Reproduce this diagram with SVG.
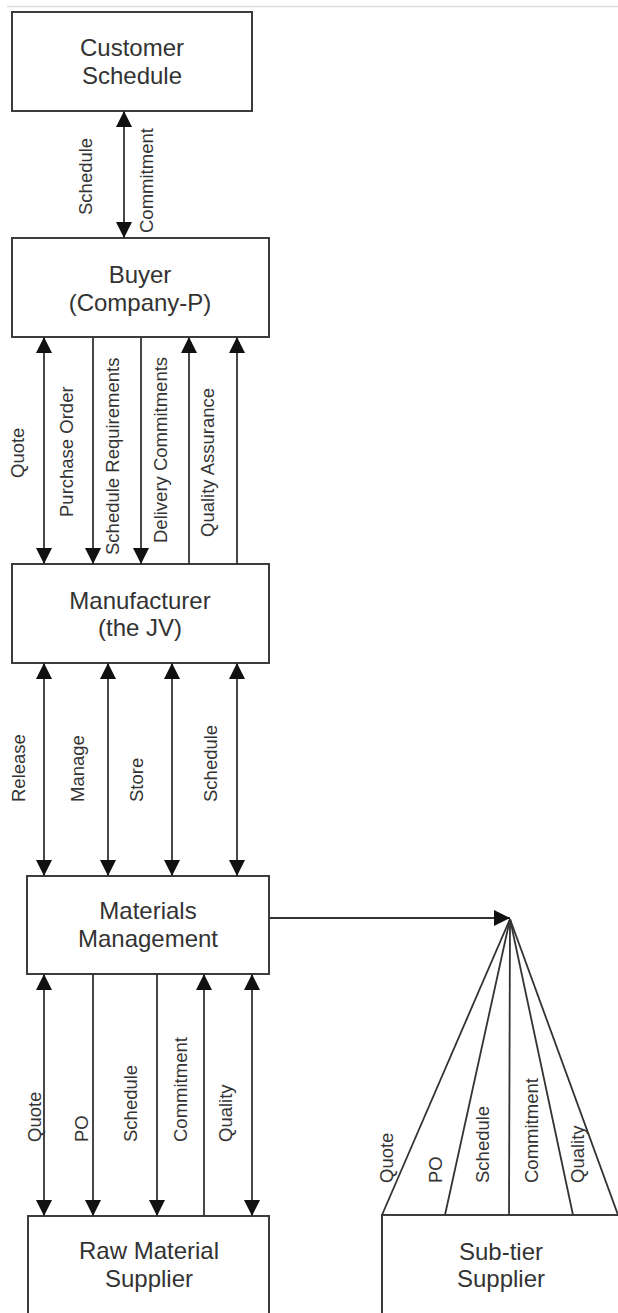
<svg xmlns="http://www.w3.org/2000/svg" width="618" height="1313" viewBox="0 0 618 1313">
<style>
.box{fill:#fff;stroke:#3c3c3c;stroke-width:2}
.bt{font-family:"Liberation Sans",Arial,sans-serif;font-size:24px;fill:#333;text-anchor:middle}
.lb{font-family:"Liberation Sans",Arial,sans-serif;font-size:18.5px;fill:#333}
.ln{stroke:#333;stroke-width:1.8;fill:none}
</style>
<defs>
<marker id="ah" viewBox="0 0 16 16" refX="16" refY="8" markerWidth="16" markerHeight="16" markerUnits="userSpaceOnUse" orient="auto-start-reverse">
<path d="M0,0 L16,8 L0,16 Z" fill="#111"/>
</marker>
</defs>
<rect width="618" height="1313" fill="#fff"/>
<line x1="7" y1="6.5" x2="618" y2="6.5" stroke="#ddd" stroke-width="1.5"/>
<g id="customer"><rect class="box" x="12" y="12" width="240" height="99"/><text class="bt" x="132" y="56">Customer</text><text class="bt" x="132" y="84">Schedule</text></g>
<g id="buyer"><rect class="box" x="12" y="238" width="257" height="99"/><text class="bt" x="140" y="283">Buyer</text><text class="bt" x="140" y="311">(Company-P)</text></g>
<g id="manufacturer"><rect class="box" x="12" y="564" width="257" height="99"/><text class="bt" x="140" y="609">Manufacturer</text><text class="bt" x="140" y="636">(the JV)</text></g>
<g id="materials"><rect class="box" x="27" y="876" width="242" height="98"/><text class="bt" x="148" y="919">Materials</text><text class="bt" x="148" y="947">Management</text></g>
<g id="raw"><rect class="box" x="28" y="1216" width="241" height="120"/><text class="bt" x="149" y="1259">Raw Material</text><text class="bt" x="149" y="1287">Supplier</text></g>
<g id="subtier"><rect class="box" x="382" y="1215" width="260" height="120"/><text class="bt" x="501" y="1260">Sub-tier</text><text class="bt" x="501" y="1287">Supplier</text></g>
<g id="connectors">
<line class="ln" x1="124" y1="111" x2="124" y2="238" marker-start="url(#ah)" marker-end="url(#ah)"/>
<line class="ln" x1="44" y1="337" x2="44" y2="564" marker-start="url(#ah)" marker-end="url(#ah)"/>
<line class="ln" x1="93" y1="337" x2="93" y2="564" marker-end="url(#ah)"/>
<line class="ln" x1="141" y1="337" x2="141" y2="564" marker-end="url(#ah)"/>
<line class="ln" x1="189" y1="564" x2="189" y2="337" marker-end="url(#ah)"/>
<line class="ln" x1="237" y1="564" x2="237" y2="337" marker-end="url(#ah)"/>
<line class="ln" x1="44" y1="663" x2="44" y2="876" marker-start="url(#ah)" marker-end="url(#ah)"/>
<line class="ln" x1="108" y1="663" x2="108" y2="876" marker-start="url(#ah)" marker-end="url(#ah)"/>
<line class="ln" x1="172" y1="663" x2="172" y2="876" marker-start="url(#ah)" marker-end="url(#ah)"/>
<line class="ln" x1="237" y1="663" x2="237" y2="876" marker-start="url(#ah)" marker-end="url(#ah)"/>
<line class="ln" x1="44" y1="974" x2="44" y2="1216" marker-start="url(#ah)" marker-end="url(#ah)"/>
<line class="ln" x1="93" y1="974" x2="93" y2="1216" marker-end="url(#ah)"/>
<line class="ln" x1="157" y1="974" x2="157" y2="1216" marker-end="url(#ah)"/>
<line class="ln" x1="204" y1="1216" x2="204" y2="974" marker-end="url(#ah)"/>
<line class="ln" x1="252" y1="974" x2="252" y2="1216" marker-start="url(#ah)" marker-end="url(#ah)"/>
<line class="ln" x1="269" y1="918" x2="510" y2="918" marker-end="url(#ah)"/>
<line class="ln" x1="510" y1="919" x2="382" y2="1215"/>
<line class="ln" x1="510" y1="919" x2="445" y2="1215"/>
<line class="ln" x1="510" y1="919" x2="509" y2="1215"/>
<line class="ln" x1="510" y1="919" x2="573" y2="1215"/>
<line class="ln" x1="510" y1="919" x2="618" y2="1215"/>
<text class="lb" transform="translate(92,215) rotate(-90)">Schedule</text>
<text class="lb" transform="translate(153,233) rotate(-90)">Commitment</text>
<text class="lb" transform="translate(24,478) rotate(-90)">Quote</text>
<text class="lb" transform="translate(73,517) rotate(-90)">Purchase Order</text>
<text class="lb" transform="translate(119,555) rotate(-90)">Schedule Requirements</text>
<text class="lb" transform="translate(167,543) rotate(-90)">Delivery Commitments</text>
<text class="lb" transform="translate(214,537) rotate(-90)">Quality Assurance</text>
<text class="lb" transform="translate(25,802) rotate(-90)">Release</text>
<text class="lb" transform="translate(84,802) rotate(-90)">Manage</text>
<text class="lb" transform="translate(143,802) rotate(-90)">Store</text>
<text class="lb" transform="translate(217,802) rotate(-90)">Schedule</text>
<text class="lb" transform="translate(41,1142) rotate(-90)">Quote</text>
<text class="lb" transform="translate(88,1142) rotate(-90)">PO</text>
<text class="lb" transform="translate(137,1142) rotate(-90)">Schedule</text>
<text class="lb" transform="translate(187,1142) rotate(-90)">Commitment</text>
<text class="lb" transform="translate(232,1142) rotate(-90)">Quality</text>
<text class="lb" transform="translate(393,1183) rotate(-90)">Quote</text>
<text class="lb" transform="translate(442,1183) rotate(-90)">PO</text>
<text class="lb" transform="translate(489,1183) rotate(-90)">Schedule</text>
<text class="lb" transform="translate(538,1183) rotate(-90)">Commitment</text>
<text class="lb" transform="translate(584,1183) rotate(-90)">Quality</text>
</g>
</svg>
